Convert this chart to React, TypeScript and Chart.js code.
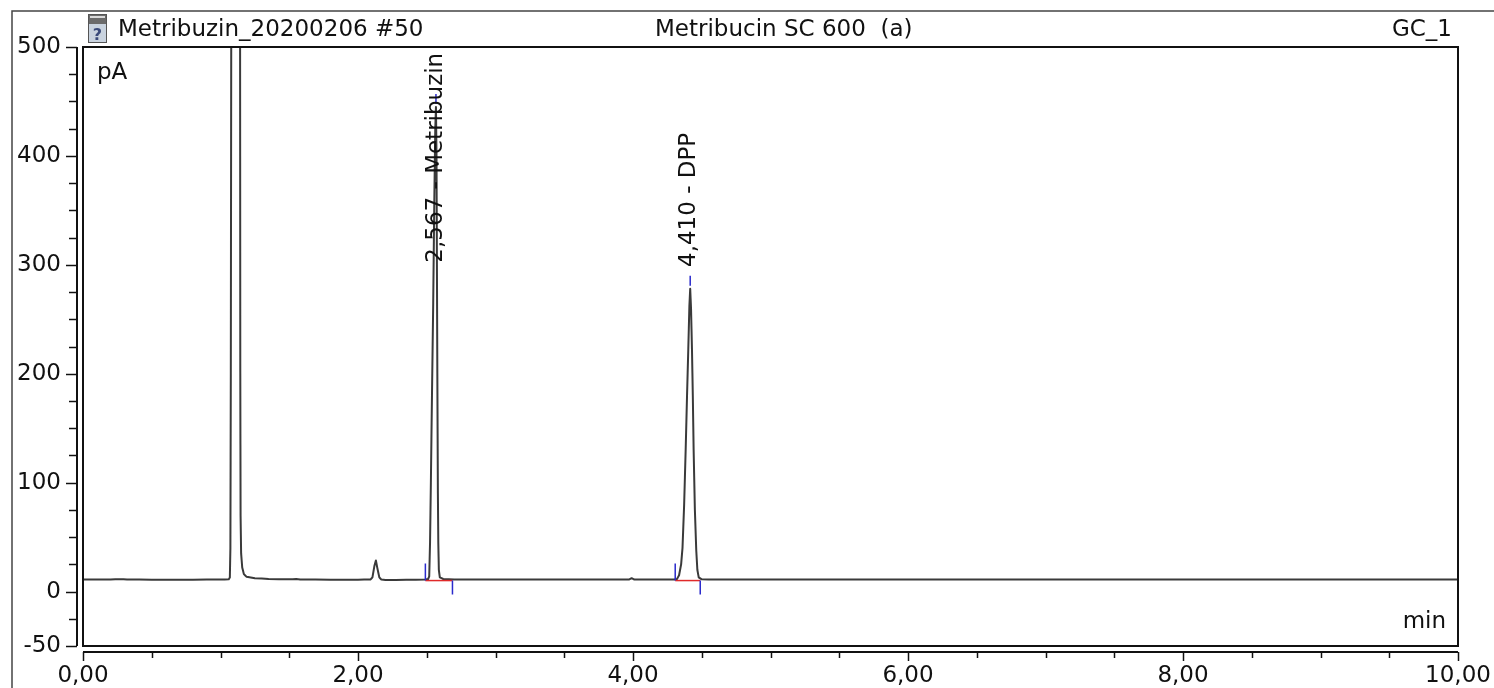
import React, { useEffect, useRef } from "react";
import { Chart, registerables } from "chart.js";

Chart.register(...registerables);

// Retention time (min) and detector signal (pA)
const timeMin: number[] = [
  0.0, 0.2, 0.27, 0.32, 0.5, 0.8, 1.0, 1.06, 1.068, 1.072, 1.075, 1.079, 1.09, 1.11, 1.13,
  1.142, 1.144, 1.146, 1.15, 1.158, 1.17, 1.19, 1.25, 1.35, 1.5, 1.55, 1.58, 1.8, 2.0,
  2.09, 2.105, 2.12, 2.13, 2.14, 2.155, 2.17, 2.2, 2.35, 2.49, 2.51, 2.518, 2.524, 2.53,
  2.538, 2.547, 2.555, 2.562, 2.567, 2.571, 2.574, 2.577, 2.581, 2.584, 2.588, 2.595, 2.62,
  2.7, 3.5, 3.97, 3.99, 4.01, 4.3, 4.32, 4.335, 4.35, 4.36, 4.372, 4.383, 4.393, 4.402,
  4.41, 4.416, 4.422, 4.429, 4.435, 4.441, 4.45, 4.46, 4.468, 4.478, 4.5, 4.6, 10.0,
];
const signalPA: number[] = [
  11.0, 11.0, 11.4, 11.1, 10.9, 10.9, 11.0, 11.2, 13, 40, 200, 600, 1800, 2500, 1800,
  600, 200, 70, 35, 22, 16, 13.5, 12.2, 11.6, 11.2, 11.5, 11.0, 10.9, 10.9,
  11.0, 13, 24, 28.5, 22, 13, 11, 10.6, 10.8, 11, 11.5, 14, 45, 100,
  180, 265, 360, 425, 445, 400, 300, 200, 90, 45, 20, 13, 11.5,
  11.0, 11.0, 11.0, 12.3, 11.0, 11.0, 11.5, 15, 25, 40, 80, 130, 180, 222,
  262, 278, 260, 222, 180, 130, 75, 38, 20, 13, 11.2, 11.0, 11.0,
];

// Integrated peaks
const peakLabels: string[] = ["2,567 - Metribuzin", "4,410 - DPP"];
const peakRetention: number[] = [2.567, 4.41];
const peakStart: number[] = [2.49, 4.307];
const peakEnd: number[] = [2.687, 4.489];
const peakLabelFrom: number[] = [302, 298]; // pA where the rotated label begins
const integrationBaseline = 11;

// Axes
const xTickValues: number[] = [0, 2, 4, 6, 8, 10];
const yTickValues: number[] = [-50, 0, 100, 200, 300, 400, 500];
const xMinorStep = 0.5;
const yMinorStep = 25;

// Header texts
const headerLeft = "Metribuzin_20200206 #50";
const headerCenter = "Metribucin SC 600  (a)";
const headerRight = "GC_1";
const yUnit = "pA";
const xUnit = "min";

const FONT = '23px "DejaVu Sans"';

const overlayPlugin = {
  id: "overlay",
  afterDatasetsDraw(chart: any) {
    const { ctx, chartArea: ca, scales } = chart;
    const x = scales.x;
    const y = scales.y;
    ctx.save();

    // plot frame
    ctx.strokeStyle = "#111";
    ctx.lineWidth = 2;
    ctx.strokeRect(ca.left, ca.top, ca.right - ca.left, ca.bottom - ca.top);

    // y axis line & ticks
    const yAxisX = ca.left - 6;
    ctx.beginPath();
    ctx.moveTo(yAxisX, y.getPixelForValue(500));
    ctx.lineTo(yAxisX, y.getPixelForValue(-50));
    ctx.stroke();
    ctx.lineWidth = 1.5;
    for (let v = -50; v <= 500; v += yMinorStep) {
      const major = yTickValues.includes(v);
      const py = Math.round(y.getPixelForValue(v)) + 0.5;
      ctx.beginPath();
      ctx.moveTo(yAxisX, py);
      ctx.lineTo(yAxisX - (major ? 11 : 8), py);
      ctx.stroke();
    }

    // x axis line & ticks
    const xAxisY = ca.bottom + 6;
    ctx.lineWidth = 2;
    ctx.beginPath();
    ctx.moveTo(x.getPixelForValue(0), xAxisY);
    ctx.lineTo(x.getPixelForValue(10), xAxisY);
    ctx.stroke();
    ctx.lineWidth = 1.5;
    for (let i = 0; i <= 20; i++) {
      const v = i * xMinorStep;
      const major = xTickValues.includes(v);
      const px = Math.round(x.getPixelForValue(v)) + 0.5;
      ctx.beginPath();
      ctx.moveTo(px, xAxisY);
      ctx.lineTo(px, xAxisY + (major ? 9 : 6));
      ctx.stroke();
    }

    // integration marks
    const by = y.getPixelForValue(integrationBaseline);
    peakStart.forEach((s, i) => {
      const xs = x.getPixelForValue(s);
      const xe = x.getPixelForValue(peakEnd[i]);
      ctx.strokeStyle = "#e02a2a";
      ctx.lineWidth = 1.5;
      ctx.beginPath();
      ctx.moveTo(xs, by + 1);
      ctx.lineTo(xe, by + 1);
      ctx.stroke();
      ctx.strokeStyle = "#2a2acc";
      ctx.beginPath();
      ctx.moveTo(xs, by + 1);
      ctx.lineTo(xs, by - 16);
      ctx.moveTo(xe, by + 1);
      ctx.lineTo(xe, by + 15);
      ctx.stroke();
      // apex mark
      let best = -Infinity;
      let bt = 0;
      timeMin.forEach((t, k) => {
        if (t >= s && t <= peakEnd[i] && signalPA[k] > best) {
          best = signalPA[k];
          bt = t;
        }
      });
      const ax = x.getPixelForValue(bt);
      const ay = y.getPixelForValue(best);
      ctx.beginPath();
      ctx.moveTo(ax, ay - 3);
      ctx.lineTo(ax, ay - 13);
      ctx.stroke();
    });

    // peak labels (rotated)
    ctx.fillStyle = "#111";
    ctx.font = FONT;
    ctx.textAlign = "left";
    ctx.textBaseline = "alphabetic";
    peakLabels.forEach((lab, i) => {
      const px = x.getPixelForValue(peakRetention[i]) + 6;
      const py = y.getPixelForValue(peakLabelFrom[i]);
      ctx.save();
      ctx.translate(px, py);
      ctx.rotate(-Math.PI / 2);
      ctx.fillText(lab, 0, 0);
      ctx.restore();
    });

    // units
    ctx.fillText(yUnit, ca.left + 14, ca.top + 32);
    ctx.textAlign = "right";
    ctx.fillText(xUnit, ca.right - 12, ca.bottom - 18);

    // header
    const hb = ca.top - 11;
    ctx.textAlign = "left";
    ctx.fillText(headerLeft, 118, hb);
    ctx.fillText(headerCenter, 655, hb);
    ctx.textAlign = "right";
    ctx.fillText(headerRight, 1452, hb);

    // header icon
    ctx.fillStyle = "#6b6b6b";
    ctx.fillRect(88, 14, 19, 10);
    ctx.fillStyle = "#d9d9d9";
    ctx.fillRect(90, 16, 15, 2);
    ctx.fillStyle = "#c9d3df";
    ctx.fillRect(88, 24, 19, 19);
    ctx.strokeStyle = "#555";
    ctx.lineWidth = 1;
    ctx.strokeRect(88.5, 14.5, 18, 28);
    ctx.fillStyle = "#3a4a7a";
    ctx.font = 'bold 16px "DejaVu Sans"';
    ctx.textAlign = "center";
    ctx.fillText("?", 97.5, 40);

    // outer frame
    ctx.strokeStyle = "#444";
    ctx.lineWidth = 1.5;
    ctx.beginPath();
    ctx.moveTo(12, chart.height);
    ctx.lineTo(12, 11);
    ctx.lineTo(chart.width, 11);
    ctx.stroke();

    ctx.restore();
  },
};

export default function App() {
  const canvasRef = useRef<HTMLCanvasElement | null>(null);

  useEffect(() => {
    if (!canvasRef.current) return;
    const points = timeMin.map((t, i) => ({ x: t, y: signalPA[i] }));
    const chart = new Chart(canvasRef.current, {
      type: "line",
      data: {
        datasets: [
          {
            data: points,
            borderColor: "#3a3a3a",
            borderWidth: 2,
            borderJoinStyle: "round",
            borderCapStyle: "round",
            pointRadius: 0,
            tension: 0.0001,
            capBezierPoints: false,
            fill: false,
          },
        ],
      },
      options: {
        animation: false,
        responsive: true,
        maintainAspectRatio: false,
        layout: { padding: { top: 47, right: 36, left: 0, bottom: 0 } },
        plugins: { legend: { display: false }, tooltip: { enabled: false }, title: { display: false } },
        scales: {
          x: {
            type: "linear",
            min: 0,
            max: 10,
            grid: { display: false, drawTicks: false },
            border: { display: false },
            afterBuildTicks: (s: any) => {
              s.ticks = xTickValues.map((v) => ({ value: v }));
            },
            afterFit: (s: any) => {
              s.height = 42;
              s.paddingLeft = 0;
              s.paddingRight = 0;
            },
            ticks: {
              padding: 16,
              color: "#111",
              maxRotation: 0,
              font: { family: "DejaVu Sans", size: 23 },
              callback: (v: any) => Number(v).toFixed(2).replace(".", ","),
            },
          },
          y: {
            type: "linear",
            min: -50,
            max: 500,
            grid: { display: false, drawTicks: false },
            border: { display: false },
            afterBuildTicks: (s: any) => {
              s.ticks = yTickValues.map((v) => ({ value: v }));
            },
            afterFit: (s: any) => {
              s.width = 83;
              s.paddingTop = 0;
              s.paddingBottom = 0;
            },
            ticks: {
              padding: 22,
              color: "#111",
              font: { family: "DejaVu Sans", size: 23 },
              callback: (v: any) => String(v),
            },
          },
        },
      },
      plugins: [overlayPlugin],
    });
    return () => chart.destroy();
  }, []);

  return (
    <div style={{ position: "fixed", left: 0, top: 0, width: 1494, height: 688, background: "#fff" }}>
      <canvas ref={canvasRef} />
    </div>
  );
}
